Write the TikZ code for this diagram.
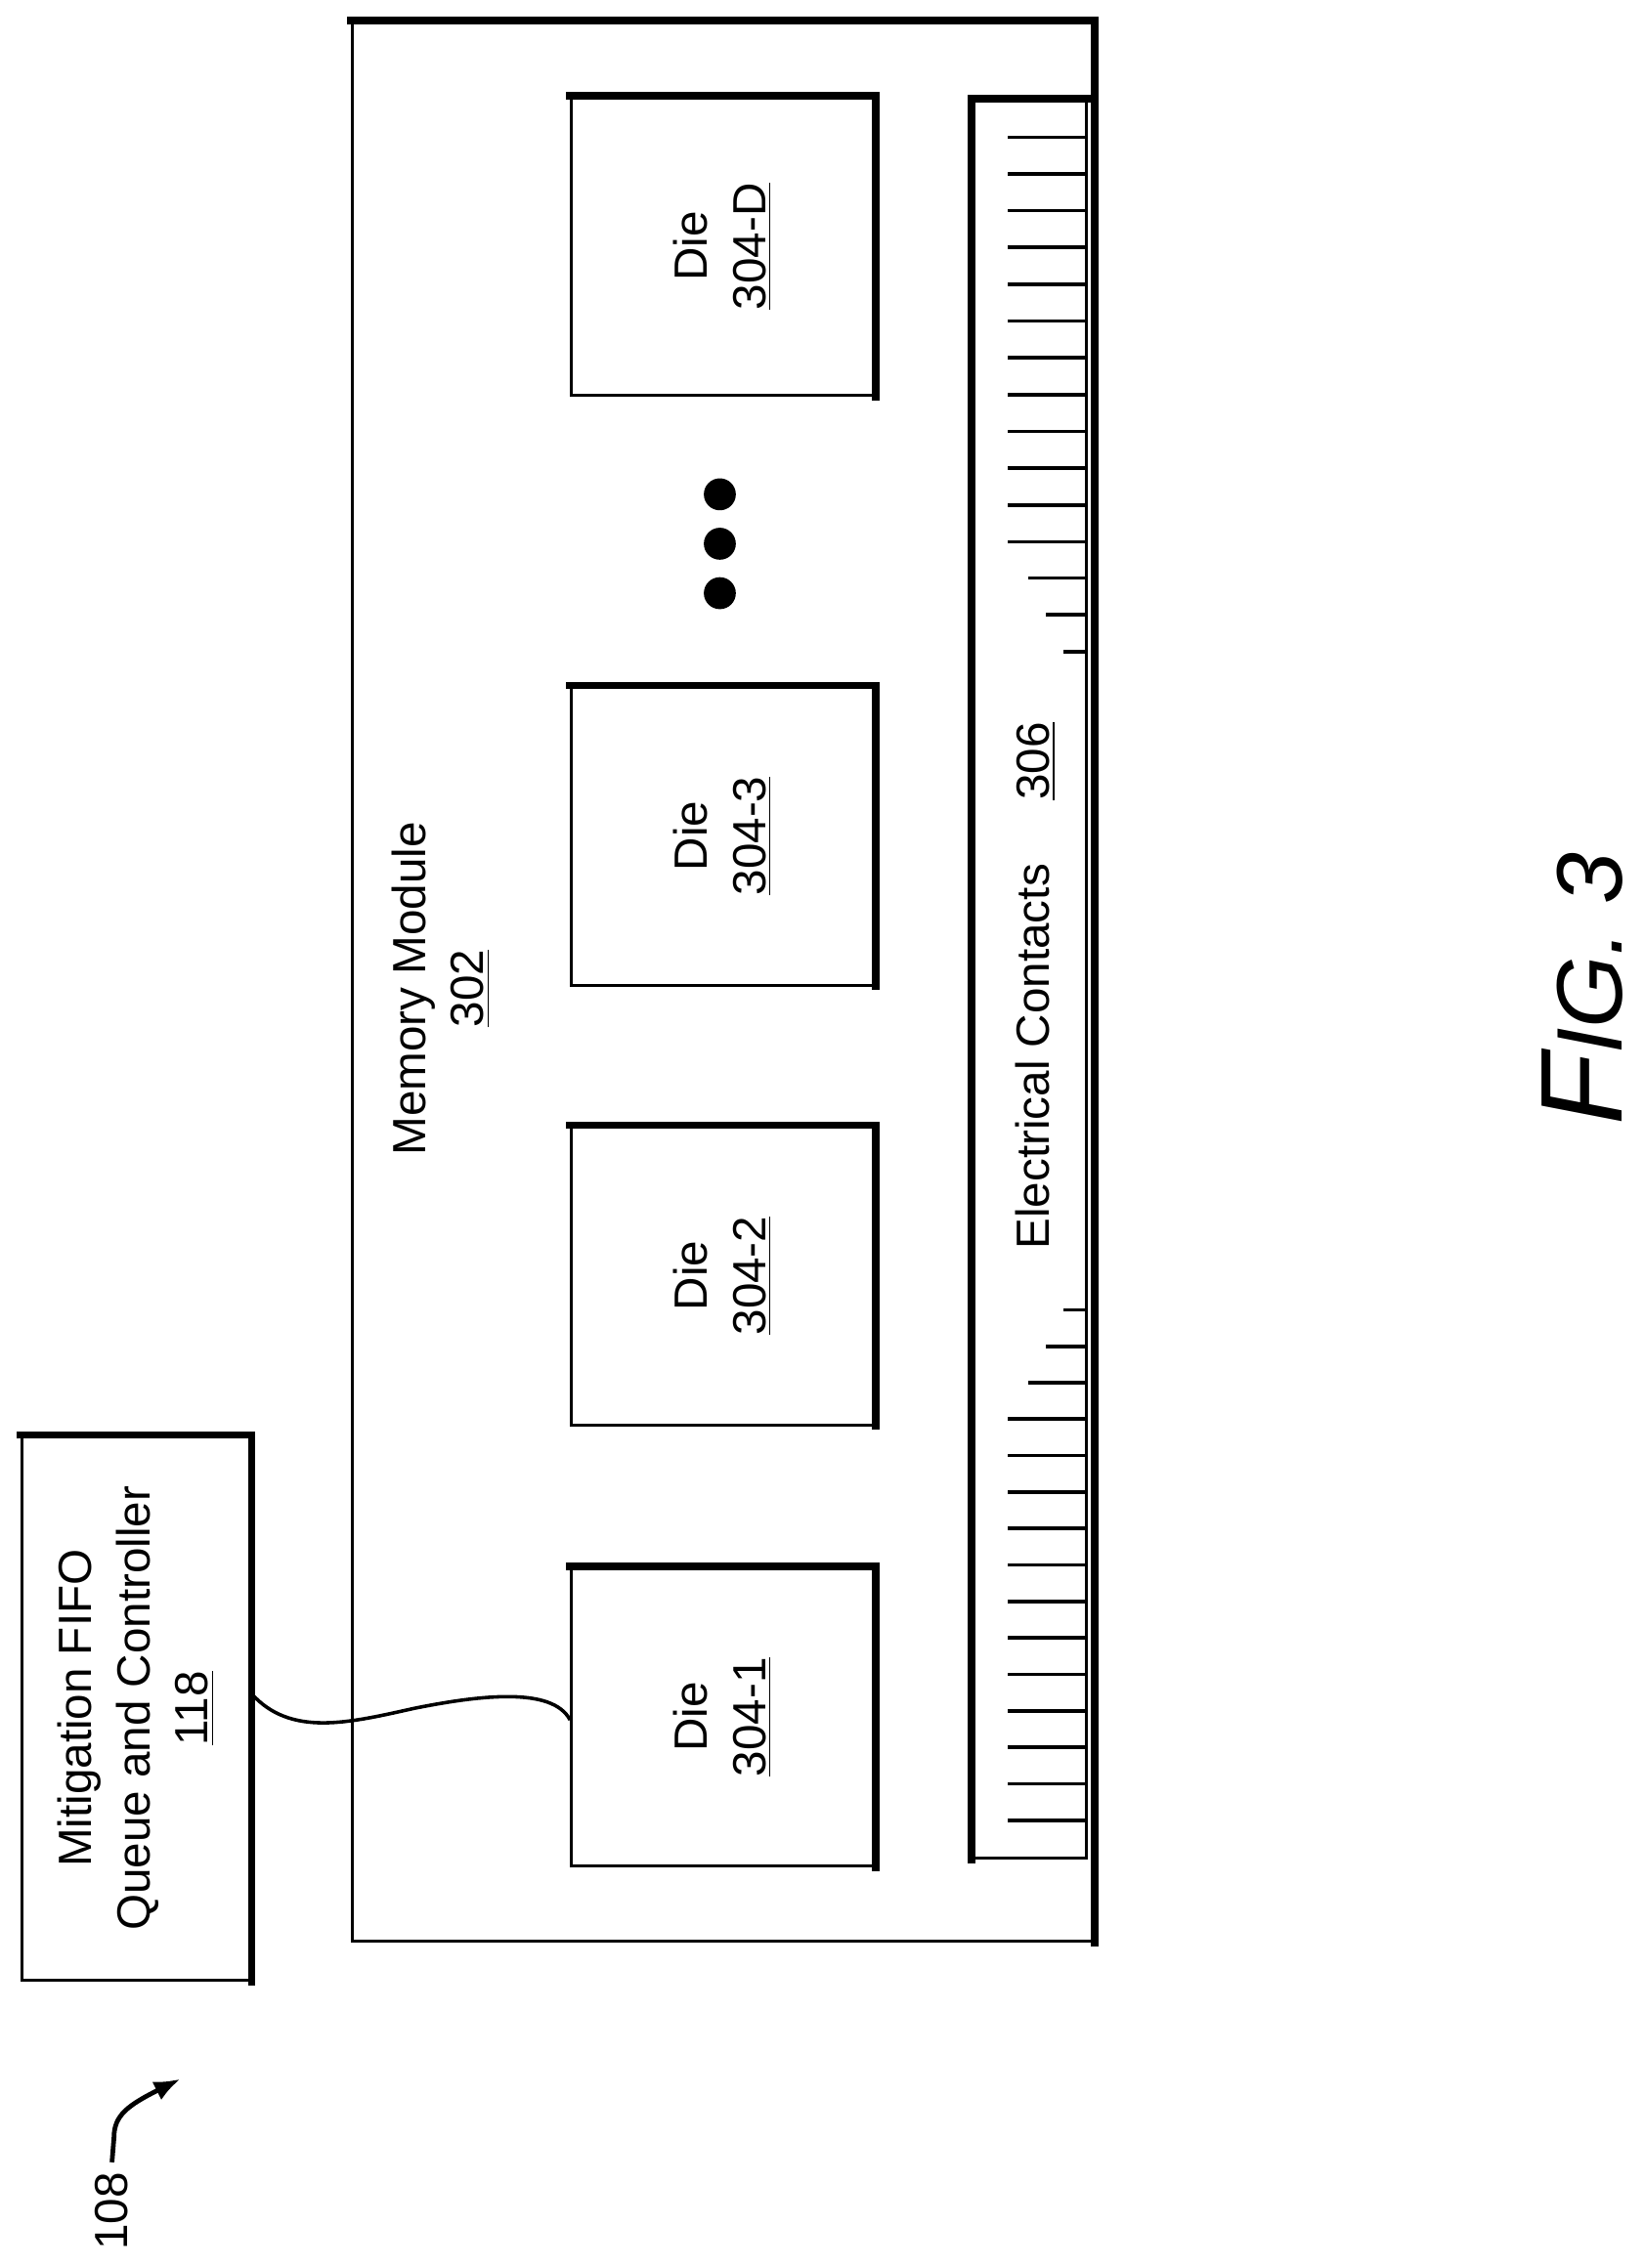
\documentclass[tikz,border=0pt]{standalone}
\usepackage{fontspec}
\setmainfont{Liberation Sans}
\usetikzlibrary{arrows.meta}
\begin{document}
\begin{tikzpicture}[x=0.5bp, y=-0.5bp]
    % Stili
    \tikzset{
        box/.style={rectangle, draw, line width=1bp, inner sep=0pt},
        edge/.style={line width=2.6bp, line cap=rect},
        label/.style={rotate=90, align=center, font=\fontsize{16bp}{20bp}\selectfont},
        tick/.style={line width=1.2bp}
    }
    \useasboundingbox (0,0) rectangle (1130,1560);

    % Modulo di memoria
    \node[box, minimum width=255bp, minimum height=660bp] (mod) at (497,675) {};
    \draw[edge] (mod.north west) -- (mod.north east) -- (mod.south east);
    \node[label] (modlab) at (303,680) {Memory Module\\\underline{302}};

    % Die
    \foreach \name/\y in {D/169.5, 3/575, 2/877.5, 1/1181} {
        \node[box, minimum width=104bp, minimum height=102.5bp] (die\name) at (497,\y) {};
        \draw[edge] (die\name.north west) -- (die\name.north east) -- (die\name.south east);
        \node[label] at (die\name) {Die\\\underline{304-\name}};
    }

    % Puntini
    \foreach \y in {340,374,408}
        \fill (495,\y) circle (11);

    % Contatti elettrici
    \node[box, minimum width=39bp, minimum height=604.5bp] (cont) at (708,673.5) {};
    \draw[edge] (cont.south west) -- (cont.north west) -- (cont.north east);
    \foreach \i in {0,...,11} {
        \draw[tick] (747,94.3+25.3*\i) -- (693,94.3+25.3*\i);
        \draw[tick] (747,976+25.1*\i) -- (693,976+25.1*\i);
    }
    \draw[tick] (747,397.6) -- (707,397.6);
    \draw[tick] (747,422.9) -- (719,422.9);
    \draw[tick] (747,448.2) -- (731,448.2);
    \draw[tick] (747,951) -- (707,951);
    \draw[tick] (747,926) -- (719,926);
    \draw[tick] (747,901) -- (731,901);
    \node[label] (contlab) at (712,678) {Electrical Contacts\hspace{22bp}\underline{306}};

    % Controller
    \node[box, minimum width=78.5bp, minimum height=187bp] (mit) at (93.5,1175) {};
    \draw[edge] (mit.north west) -- (mit.north east) -- (mit.south east);
    \node[label] at (mit) {Mitigation FIFO\\Queue and Controller\\\underline{118}};

    % Filo
    \draw[line width=1.2bp] (mit.east |- 0,1165) .. controls (200,1195) and (240,1185) .. (285,1175)
        .. controls (330,1166) and (380,1160) .. (die1.west |- 0,1183);

    % Riferimento
    \node[label] (ref) at (77,1521) {108};
    \coordinate (reftip) at (124,1430);
    \draw[line width=1.6bp, -{Latex[length=9bp,width=7bp]}] (ref.east) -- (78.4,1470)
        .. controls (78.4,1455) and (88,1448) .. (reftip);

    % Figura
    \node[rotate=90, font=\itshape] (fig) at (1088,680) {\fontsize{40bp}{44bp}\selectfont F\fontsize{32bp}{36bp}\selectfont IG. 3};
\end{tikzpicture}
\end{document}
